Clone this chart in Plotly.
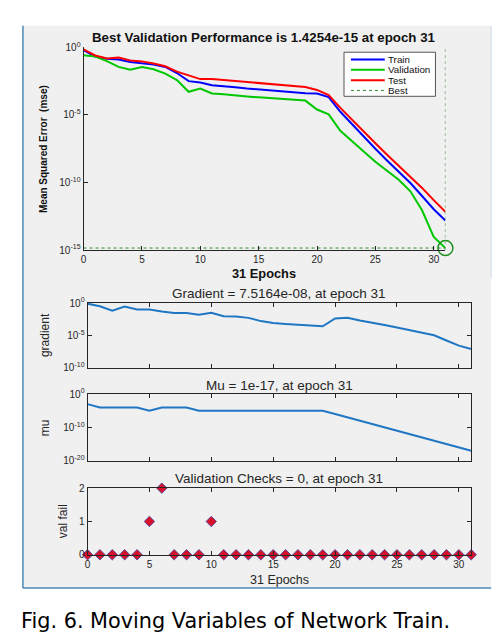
import plotly.graph_objects as go

# ---------------- data ----------------
epochs = list(range(32))

train_log = [-0.2, -0.68, -0.85, -0.9, -1.09, -1.16, -1.28, -1.45, -1.9, -2.5, -2.6, -2.8, -2.85,
             -2.95, -3.05, -3.12, -3.2, -3.27, -3.34, -3.39, -3.41, -3.68, -4.77, -5.69, -6.6,
             -7.5, -8.37, -9.2, -10.04, -11.0, -11.98, -12.82]
val_log = [-0.58, -0.68, -1.02, -1.45, -1.65, -1.45, -1.62, -1.94, -2.42, -3.29, -3.05, -3.41,
           -3.48, -3.53, -3.63, -3.7, -3.75, -3.82, -3.87, -3.94, -4.6, -4.96, -6.17, -6.9, -7.7,
           -8.47, -9.15, -9.8, -10.65, -12.05, -14.03, -14.846]
test_log = [-0.15, -0.6, -0.82, -0.75, -0.97, -1.04, -1.2, -1.4, -1.8, -2.05, -2.35, -2.35, -2.42,
            -2.52, -2.56, -2.64, -2.71, -2.78, -2.88, -2.93, -3.15, -3.53, -4.48, -5.37, -6.24,
            -7.09, -7.94, -8.76, -9.53, -10.4, -11.3, -12.17]
grad_log = [-0.1, -0.5, -1.2, -0.55, -1.0, -1.0, -1.3, -1.55, -1.55, -1.8, -1.5, -2.05, -2.1,
            -2.3, -2.8, -3.1, -3.25, -3.35, -3.5, -3.6, -2.4, -2.3, -2.7, -3.0, -3.4, -3.8, -4.2,
            -4.6, -5.0, -5.8, -6.6, -7.124]
mu_log = [-3, -4, -4, -4, -4, -5, -4, -4, -4, -5, -5, -5, -5, -5, -5, -5, -5, -5, -5, -5,
          -6, -7, -8, -9, -10, -11, -12, -13, -14, -15, -16, -17]
val_fail = [0, 0, 0, 0, 0, 1, 2, 0, 0, 0, 1, 0, 0, 0, 0, 0, 0, 0, 0, 0, 0, 0, 0, 0, 0, 0, 0, 0,
            0, 0, 0, 0]

best_epoch = 31
best_perf = 1.4254e-15

series_names = ["Train", "Validation", "Test", "Best"]
series_colors = ["#0000ff", "#00c800", "#ff0000", "#2e8b2e"]

train = [10 ** v for v in train_log]
valid = [10 ** v for v in val_log]
test = [10 ** v for v in test_log]
grad = [10 ** v for v in grad_log]
mu = [10 ** v for v in mu_log]

top_title = "Best Validation Performance is 1.4254e-15 at epoch 31"
grad_title = "Gradient = 7.5164e-08, at epoch 31"
mu_title = "Mu = 1e-17, at epoch 31"
vf_title = "Validation Checks = 0, at epoch 31"
caption = "Fig. 6. Moving Variables of Network Train."

# ---------------- layout helpers ----------------
W, H = 503, 637
FONT = "Liberation Sans, Arial, sans-serif"
TXT = "#262626"


def px(x):
    return x / W


def py(y):
    return 1 - y / H


def sup(e):
    return "10<sup>%d</sup>" % e


fig = go.Figure()

# top performance plot
for yv, nm, col in zip([train, valid, test], series_names[:3], series_colors[:3]):
    fig.add_trace(go.Scatter(x=epochs, y=yv, mode="lines", name=nm, showlegend=False,
                             line=dict(color=col, width=2), xaxis="x", yaxis="y"))
fig.add_trace(go.Scatter(x=[0, best_epoch, None, best_epoch, best_epoch],
                         y=[best_perf, best_perf, None, 1e-15, 1], mode="lines", name="Best",
                         showlegend=False,
                         line=dict(color=series_colors[3], width=1, dash="dot"), xaxis="x", yaxis="y"))
fig.add_trace(go.Scatter(x=[best_epoch], y=[best_perf], mode="markers", showlegend=False,
                         marker=dict(symbol="circle-open", size=15, color="#1f8f1f",
                                     line=dict(width=1.5, color="#1f8f1f")),
                         cliponaxis=False, xaxis="x", yaxis="y"))

# gradient
fig.add_trace(go.Scatter(x=epochs, y=grad, mode="lines", showlegend=False,
                         line=dict(color="#1f77c4", width=2), xaxis="x2", yaxis="y2"))
# mu
fig.add_trace(go.Scatter(x=epochs, y=mu, mode="lines", showlegend=False,
                         line=dict(color="#1f77c4", width=2), xaxis="x3", yaxis="y3"))
# val fail
fig.add_trace(go.Scatter(x=epochs, y=val_fail, mode="markers", showlegend=False,
                         marker=dict(symbol="diamond", size=8, color="#d8102a",
                                     line=dict(width=1, color="#5a4a9a")),
                         cliponaxis=False, xaxis="x4", yaxis="y4"))

tickfont = dict(family=FONT, size=10, color=TXT)

common_x = dict(range=[0, 31], tickvals=[0, 5, 10, 15, 20, 25, 30], ticks="inside", ticklen=4,
                tickcolor=TXT, showgrid=False, zeroline=False, showline=True, linecolor=TXT,
                linewidth=1, tickfont=tickfont)

lay = dict(
    width=W, height=H, margin=dict(l=0, r=0, t=0, b=0),
    paper_bgcolor="white", plot_bgcolor="white", showlegend=False,
    font=dict(family=FONT, color=TXT),
    xaxis=dict(common_x, domain=[px(73), px(437)], anchor="y", mirror=False),
    yaxis=dict(type="log", range=[-15, 0], domain=[py(240), py(33)], anchor="x",
               tickvals=[1, 1e-5, 1e-10, 1e-15], ticktext=[sup(0), sup(-5), sup(-10), sup(-15)],
               ticks="inside", ticklen=4, tickcolor=TXT, showgrid=False, zeroline=False,
               showline=True, linecolor=TXT, tickfont=tickfont),
    xaxis2=dict(common_x, domain=[px(77), px(463)], anchor="y2", mirror="ticks",
                showticklabels=False),
    yaxis2=dict(type="log", range=[-10, 0], domain=[py(360), py(294)], anchor="x2",
                tickvals=[1, 1e-5, 1e-10], ticktext=[sup(0), sup(-5), sup(-10)],
                ticks="inside", ticklen=4, tickcolor=TXT, showgrid=False, zeroline=False,
                showline=True, linecolor=TXT, mirror="ticks", tickfont=tickfont),
    xaxis3=dict(common_x, domain=[px(77), px(463)], anchor="y3", mirror="ticks",
                showticklabels=False),
    yaxis3=dict(type="log", range=[-20, 0], domain=[py(455), py(387)], anchor="x3",
                tickvals=[1, 1e-10, 1e-20], ticktext=[sup(0), sup(-10), sup(-20)],
                ticks="inside", ticklen=4, tickcolor=TXT, showgrid=False, zeroline=False,
                showline=True, linecolor=TXT, mirror="ticks", tickfont=tickfont),
    xaxis4=dict(common_x, domain=[px(77), px(463)], anchor="y4", mirror="ticks"),
    yaxis4=dict(range=[0, 2], domain=[py(551), py(483)], anchor="x4",
                tickvals=[0, 1, 2], ticks="inside", ticklen=4, tickcolor=TXT, showgrid=False,
                zeroline=False, showline=True, linecolor=TXT, mirror="ticks", tickfont=tickfont),
)
fig.update_layout(**lay)

# background panel
shapes = [
    dict(type="rect", xref="paper", yref="paper", x0=px(12), x1=px(483), y0=py(585), y1=py(11),
         fillcolor="#f0f0f0", line=dict(width=0), layer="below"),
    dict(type="line", xref="paper", yref="paper", x0=px(12), x1=px(12), y0=py(585), y1=py(11),
         line=dict(color="#4a88b8", width=1.5)),
    dict(type="line", xref="paper", yref="paper", x0=px(12), x1=px(483), y0=py(585), y1=py(585),
         line=dict(color="#4a88b8", width=1.5)),
    dict(type="line", xref="paper", yref="paper", x0=px(483), x1=px(483), y0=py(268), y1=py(11),
         line=dict(color="#c9dcec", width=1)),
    # legend box
    dict(type="rect", xref="paper", yref="paper", x0=px(335), x1=px(427), y0=py(83), y1=py(38),
         fillcolor="white", line=dict(color="#555", width=1), layer="above"),
]

ann = []
for i, (nm, col) in enumerate(zip(series_names, series_colors)):
    yy = 45.5 + 10.5 * i
    shapes.append(dict(type="line", xref="paper", yref="paper", x0=px(342), x1=px(376),
                       y0=py(yy), y1=py(yy), layer="above",
                       line=dict(color=col, width=2 if i < 3 else 1, dash="solid" if i < 3 else "dot")))
    ann.append(dict(x=px(378), y=py(yy), xref="paper", yref="paper", text=nm, showarrow=False,
                    font=dict(family=FONT, size=9.8, color="#111"), xanchor="left", yanchor="middle",
                    borderpad=0))
fig.update_layout(shapes=shapes)


def add_text(x, y, text, size, bold=False, angle=0, color=TXT, family=FONT, xanchor="center"):
    ann.append(dict(x=px(x), y=py(y), xref="paper", yref="paper",
                    text=("<b>%s</b>" % text) if bold else text,
                    showarrow=False, font=dict(family=family, size=size, color=color),
                    textangle=angle, xanchor=xanchor, yanchor="middle"))


add_text(255, 23, top_title, 13.3, bold=True, color="#111")
add_text(255, 264, "31 Epochs", 12.8, bold=True, color="#111")
add_text(32, 137, "Mean Squared Error  (mse)", 10, bold=True, angle=-90, color="#111")
add_text(270, 284, grad_title, 13.5)
add_text(35, 327, "gradient", 12, angle=-90)
add_text(270, 378, mu_title, 13.5)
add_text(35, 421, "mu", 12, angle=-90)
add_text(270, 473, vf_title, 13.5)
add_text(53, 517, "val fail", 12, angle=-90)
add_text(270, 577, "31 Epochs", 12.5)
add_text(8, 619, caption, 20.8, color="#000", family="DejaVu Sans", xanchor="left")
fig.update_layout(annotations=ann)

fig.write_html("out.html")
